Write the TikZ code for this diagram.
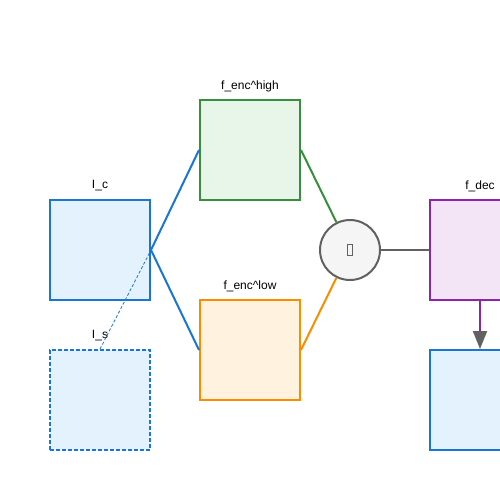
\documentclass[tikz,border=0pt]{standalone}
\usepackage{fontspec}
\setmainfont{Liberation Sans}
\usetikzlibrary{arrows.meta}
\definecolor{cblue}{HTML}{1976D2}
\definecolor{fblue}{HTML}{E3F2FD}
\definecolor{cgreen}{HTML}{388E3C}
\definecolor{fgreen}{HTML}{E8F5E9}
\definecolor{corange}{HTML}{FB8C00}
\definecolor{forange}{HTML}{FFF3E0}
\definecolor{cpurple}{HTML}{8E24AA}
\definecolor{fpurple}{HTML}{F3E5F5}
\definecolor{cgray}{HTML}{616161}
\definecolor{fgray}{HTML}{F5F5F5}
\tikzset{
  box/.style={rectangle, minimum width=100pt, minimum height=100pt, inner sep=0pt, line width=2pt},
  lbl/.style={font=\fontsize{12pt}{14pt}\selectfont, text=black, inner sep=0pt},
  conn/.style={line width=2pt},
}
\begin{document}
\begin{tikzpicture}[x=1pt,y=-1pt]
\useasboundingbox (0,0) rectangle (500,500);
\clip (0,0) rectangle (500,500);
\node[box, draw=cblue, fill=fblue] (ic) at (100,250) {};
\node[box, draw=cblue, fill=fblue, dash pattern=on 4pt off 2pt] (is) at (100,400) {};
\node[box, draw=cgreen, fill=fgreen] (high) at (250,150) {};
\node[box, draw=corange, fill=forange] (low) at (250,350) {};
\node[circle, minimum size=60pt, inner sep=0pt, line width=2pt, draw=cgray, fill=fgray] (op) at (350,250)
  {\textcolor{cgray}{\setlength{\fboxsep}{0pt}\setlength{\fboxrule}{0.8pt}\fbox{\rule{0pt}{10pt}\hspace{4pt}}}};
\node[box, draw=cpurple, fill=fpurple] (dec) at (480,250) {};
\node[box, draw=cblue, fill=fblue] (out) at (480,400) {};
\node[lbl] (lic) at (100,186) {I\_c};
\node[lbl] (lis) at (100,336) {I\_s};
\node[lbl] (lhigh) at (250,86) {f\_enc\textasciicircum high};
\node[lbl] (llow) at (250,286) {f\_enc\textasciicircum low};
\node[lbl] (ldec) at (480,186) {f\_dec};
\draw[conn, cblue] (ic.east) -- (high.west);
\draw[conn, cblue] (ic.east) -- (low.west);
\draw[cblue, line width=0.8pt, dash pattern=on 3pt off 2pt] (is.north) -- (ic.east);
\draw[conn, cgreen] (high.east) -- (op);
\draw[conn, corange] (low.east) -- (op);
\draw[conn, cgray] (op) -- (dec.west);
\draw[conn, cpurple, -{Triangle[width=14pt,length=18pt,color=cgray,fill=cgray]}] (dec.south) -- (out.north);
\end{tikzpicture}
\end{document}
